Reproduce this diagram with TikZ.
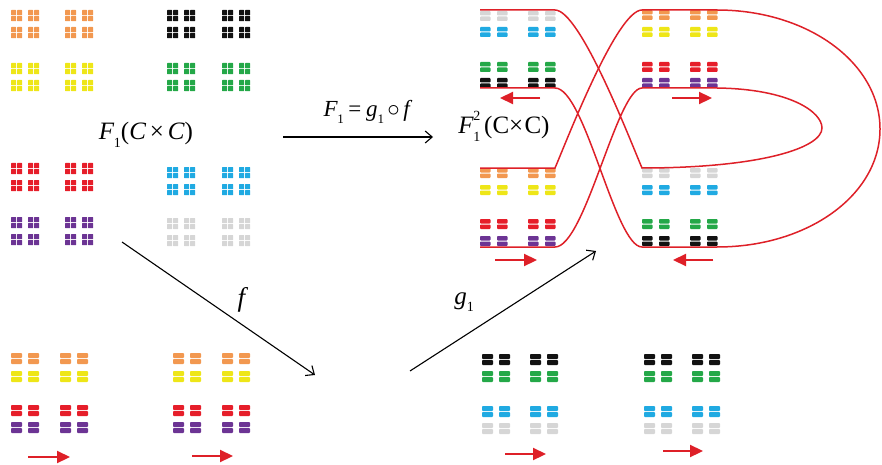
\documentclass[tikz,border=0pt]{standalone}
\usepackage{fontspec}
\setmainfont{Liberation Serif}
\usetikzlibrary{arrows.meta}
\definecolor{cor}{RGB}{242,152,80}
\definecolor{cye}{RGB}{238,230,24}
\definecolor{cbk}{RGB}{18,18,18}
\definecolor{cgr}{RGB}{36,168,72}
\definecolor{crd}{RGB}{230,30,42}
\definecolor{cpu}{RGB}{108,52,148}
\definecolor{cbl}{RGB}{32,170,226}
\definecolor{cgy}{RGB}{214,214,214}
\definecolor{redline}{RGB}{222,32,40}
% 4-piece squares: colour, x list, y list
\newcommand\Qgrid[3]{%
  \foreach \xx in {#2}{\foreach \yy in {#3}{%
    \fill[#1,rounded corners=0.6pt] (\xx,\yy) rectangle ++(5.2,5.2);
    \fill[#1,rounded corners=0.6pt] (\xx+6,\yy) rectangle ++(5.2,5.2);
    \fill[#1,rounded corners=0.6pt] (\xx,\yy+6) rectangle ++(5.2,5.2);
    \fill[#1,rounded corners=0.6pt] (\xx+6,\yy+6) rectangle ++(5.2,5.2);}}}
% 2-bar squares: colour, x list, y list, width, height
\newcommand\Bgrid[5]{%
  \foreach \xx in {#2}{\foreach \yy in {#3}{%
    \fill[#1,rounded corners=0.8pt] (\xx,\yy) rectangle ++(#4,#5/2-0.5);
    \fill[#1,rounded corners=0.8pt] (\xx,\yy+#5/2+0.5) rectangle ++(#4,#5/2-0.5);}}}
\tikzset{
  rline/.style={draw=redline,line width=1.5pt},
  rarrow/.style={draw=redline,fill=redline,line width=2.2pt,-{Triangle[length=13pt,width=12pt]}},
  karrow/.style={draw=black,line width=1.1pt,-{Straight Barb[length=7pt,width=12pt]}},
  lab/.style={inner sep=0pt,font=\fontsize{25}{25}\selectfont}
}
\begin{document}
\begin{tikzpicture}[x=1pt,y=-1pt]
\useasboundingbox (0,0) rectangle (882,465);
% ---------- top-left set ----------
\Qgrid{cor}{11,28,65,82}{10,27}
\Qgrid{cye}{11,28,65,82}{63,80}
\Qgrid{cbk}{167,184,222,239}{10,27}
\Qgrid{cgr}{167,184,222,239}{63,80}
\Qgrid{crd}{11,28,65,82}{163,180}
\Qgrid{cpu}{11,28,65,82}{217,234}
\Qgrid{cbl}{167,184,222,239}{167,184}
\Qgrid{cgy}{167,184,222,239}{218,235}
% ---------- top-right sets ----------
\Bgrid{cgy}{480,497,528,545}{11}{10.5}{10}
\Bgrid{cbl}{480,497,528,545}{27}{10.5}{10}
\Bgrid{cgr}{480,497,528,545}{62}{10.5}{10}
\Bgrid{cbk}{480,497,528,545}{78}{10.5}{10}
\Bgrid{cor}{642,659,690,707}{10}{10.5}{10}
\Bgrid{cye}{642,659,690,707}{27}{10.5}{10}
\Bgrid{crd}{642,659,690,707}{62}{10.5}{10}
\Bgrid{cpu}{642,659,690,707}{78}{10.5}{10}
\Bgrid{cor}{480,497,528,545}{168}{10.5}{10}
\Bgrid{cye}{480,497,528,545}{185}{10.5}{10}
\Bgrid{crd}{480,497,528,545}{219}{10.5}{10}
\Bgrid{cpu}{480,497,528,545}{236}{10.5}{10}
\Bgrid{cgy}{642,659,690,707}{168}{10.5}{10}
\Bgrid{cbl}{642,659,690,707}{185}{10.5}{10}
\Bgrid{cgr}{642,659,690,707}{219}{10.5}{10}
\Bgrid{cbk}{642,659,690,707}{236}{10.5}{10}
% ---------- bottom sets ----------
\Bgrid{cor}{11,28,60,77}{353}{11}{11}
\Bgrid{cye}{11,28,60,77}{371}{11}{11}
\Bgrid{crd}{11,28,60,77}{405}{11}{11}
\Bgrid{cpu}{11,28,60,77}{422}{11}{11}
\Bgrid{cor}{173,190,222,239}{353}{11}{11}
\Bgrid{cye}{173,190,222,239}{371}{11}{11}
\Bgrid{crd}{173,190,222,239}{405}{11}{11}
\Bgrid{cpu}{173,190,222,239}{422}{11}{11}
\Bgrid{cbk}{482,499,530,547}{354}{11}{11}
\Bgrid{cgr}{482,499,530,547}{371}{11}{11}
\Bgrid{cbl}{482,499,530,547}{406}{11}{11}
\Bgrid{cgy}{482,499,530,547}{423}{11}{11}
\Bgrid{cbk}{644,661,692,709}{354}{11}{11}
\Bgrid{cgr}{644,661,692,709}{371}{11}{11}
\Bgrid{cbl}{644,661,692,709}{406}{11}{11}
\Bgrid{cgy}{644,661,692,709}{423}{11}{11}
% ---------- red permutation curves ----------
\draw[rline] (480,10) -- (555,10) .. controls (580,10) and (630,140) .. (642,168)
  .. controls (760,168) and (822,148) .. (822,128)
  .. controls (822,112) and (790,89) .. (717,88) -- (642,88)
  .. controls (617,88) and (585,247) .. (555,247) -- (480,247);
\draw[rline] (480,88) -- (555,88) .. controls (585,88) and (615,247) .. (642,247) -- (717,247)
  .. controls (808,247) and (880,195) .. (880,129)
  .. controls (880,63) and (808,10) .. (717,10) -- (642,10)
  .. controls (617,10) and (567,140) .. (555,168) -- (480,168);
% ---------- red direction arrows ----------
\coordinate (ra1) at (540,98); \coordinate (ra2) at (500,98);
\coordinate (rb1) at (672,98); \coordinate (rb2) at (712,98);
\coordinate (rc1) at (495,260); \coordinate (rc2) at (537,260);
\coordinate (rd1) at (713,260); \coordinate (rd2) at (673,260);
\coordinate (re1) at (28,457); \coordinate (re2) at (70,457);
\coordinate (rf1) at (192,456); \coordinate (rf2) at (233,456);
\coordinate (rg1) at (505,454); \coordinate (rg2) at (546,454);
\coordinate (rh1) at (663,451); \coordinate (rh2) at (703,451);
\foreach \a in {ra,rb,rc,rd,re,rf,rg,rh}{\draw[rarrow] (\a1) -- (\a2);}
% ---------- labels ----------
\node[lab] (L1) at (146,135) {\textit{F}\kern-0.02em\raisebox{-0.3em}{\fontsize{14}{14}\selectfont 1}(\textit{C}\kern0.15em×\kern0.15em\textit{C})};
\node[lab,font=\fontsize{23}{23}\selectfont] (L2) at (368,112) {\textit{F}\kern-0.02em\raisebox{-0.3em}{\fontsize{13}{13}\selectfont 1}\kern0.2em=\kern0.2em\textit{g}\raisebox{-0.3em}{\fontsize{13}{13}\selectfont 1}\kern0.15em$\circ$\kern0.15em\textit{f}};
\node[lab] (L3) at (504,126) {\textit{F}\kern-0.02em\makebox[0pt][l]{\raisebox{0.55em}{\fontsize{14}{14}\selectfont 2}}\raisebox{-0.3em}{\fontsize{14}{14}\selectfont 1}\kern0.15em(C×\kern0.05em C)};
\node[lab,font=\fontsize{27}{27}\selectfont] (L4) at (243,300) {\textit{f}};
\node[lab] (L5) at (464,302) {\textit{g}\raisebox{-0.3em}{\fontsize{14}{14}\selectfont 1}};
% ---------- black arrows ----------
\coordinate (kA1) at (283,137); \coordinate (kA2) at (433,137);
\coordinate (kB1) at (122,242); \coordinate (kB2) at (315,375);
\coordinate (kC1) at (410,371); \coordinate (kC2) at (596,251);
\draw[karrow] (kA1) -- (kA2);
\draw[karrow] (kB1) -- (kB2);
\draw[karrow] (kC1) -- (kC2);
\end{tikzpicture}
\end{document}
